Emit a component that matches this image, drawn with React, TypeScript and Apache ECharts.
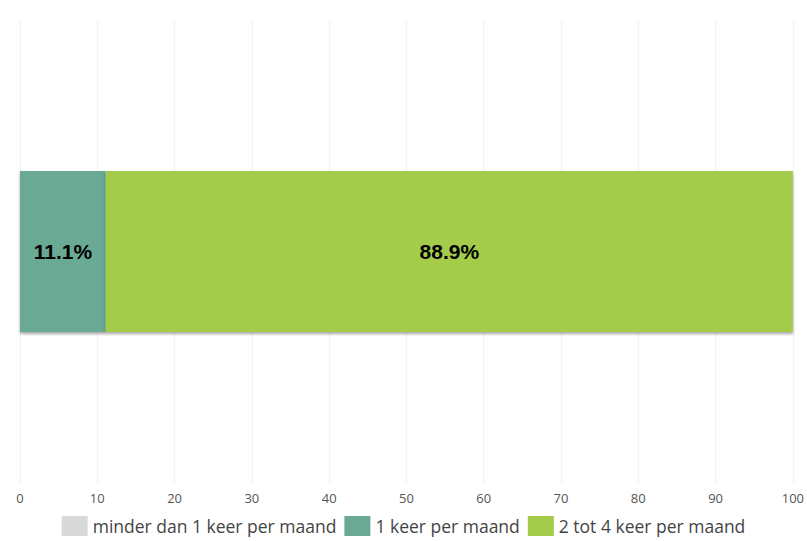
import React, { useEffect, useRef } from "react";
import * as echarts from "echarts";

const categories = [""];
const seriesNames = ["minder dan 1 keer per maand", "1 keer per maand", "2 tot 4 keer per maand"];
const seriesValues = [[0], [11.1], [88.9]];
const seriesColors = ["#d9d9d9", "#6aa994", "#a5cb4b"];

export default function App() {
  const ref = useRef<HTMLDivElement>(null);
  useEffect(() => {
    const chart = echarts.init(ref.current!, null, { renderer: "svg" });
    chart.setOption({
      animation: false,
      backgroundColor: "#ffffff",
      grid: { left: 20, right: 14, top: 20, bottom: 58, containLabel: false },
      legend: {
        bottom: 0,
        left: "center",
        itemWidth: 26,
        itemHeight: 20,
        itemGap: 8,
        icon: "rect",
        textStyle: { fontFamily: "Open Sans", fontSize: 17.5, color: "#444" },
        data: seriesNames,
      },
      xAxis: {
        type: "value",
        min: 0,
        max: 100,
        interval: 10,
        axisLine: { show: false },
        axisTick: { show: false },
        splitLine: { show: true, lineStyle: { color: "#f2f2f2", width: 1 } },
        axisLabel: { color: "#555", fontFamily: "Open Sans", fontSize: 13, margin: 8 },
      },
      yAxis: {
        type: "category",
        data: categories,
        axisLine: { show: false },
        axisTick: { show: false },
        axisLabel: { show: false },
      },
      series: seriesNames.map((name, i) => ({
        name,
        type: "bar",
        stack: "total",
        barWidth: 161,
        data: seriesValues[i],
        itemStyle: {
          color: seriesColors[i],
          shadowColor: "rgba(0,0,0,0.35)",
          shadowBlur: 3,
          shadowOffsetY: 2,
        },
        label: {
          show: seriesValues[i][0] > 0,
          position: "inside",
          formatter: (p: any) => p.value.toFixed(1) + "%",
          color: "#000",
          fontWeight: "bold",
          fontSize: 21,
          fontFamily: "Liberation Sans, Arial, sans-serif",
        },
      })),
    });
    return () => chart.dispose();
  }, []);
  return <div ref={ref} style={{ width: 807, height: 541, position: "absolute", left: 0, top: 0 }} />;
}
